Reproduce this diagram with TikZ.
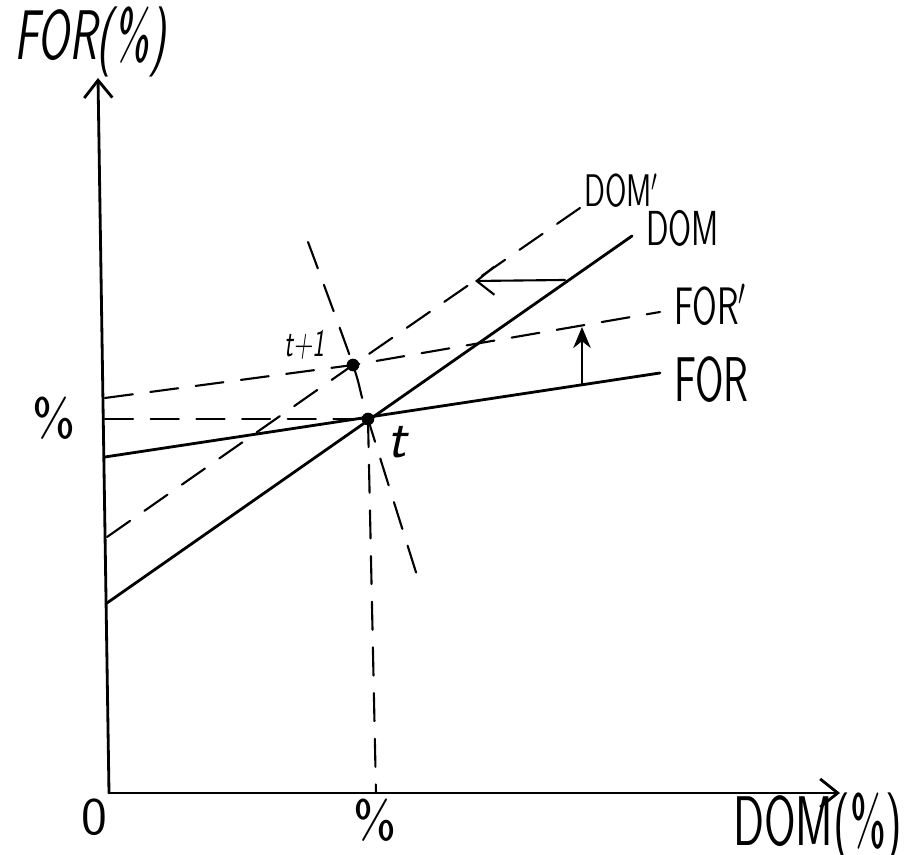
\documentclass[tikz,border=0pt]{standalone}
\usepackage{tikz}
\usetikzlibrary{arrows.meta, positioning}
% narrow, hand-lettered look
\newcommand{\handtext}[1]{\scalebox{0.65}[1]{#1}}
\tikzset{
  lbl/.style={font=\sffamily\fontsize{15}{17}\selectfont, inner sep=1pt},
  guide/.style={semithick, dash pattern=on 8pt off 5pt},
  curve/.style={thick},
  eqdot/.style={circle, fill, inner sep=0pt, minimum size=3.6pt},
  barb/.style={-{Straight Barb[length=5pt, width=8pt]}},
}

\begin{document}
\begin{tikzpicture}[line cap=round, line join=round]
  \useasboundingbox (0,0) rectangle (9.06,8.55);
  % axes
  \coordinate (O) at (1.09,0.62);
  \coordinate (ytop) at (0.98,7.77);
  \coordinate (xend) at (8.40,0.62);
  \draw[thick, barb] (O) -- (ytop);
  \draw[thick, barb] (O) -- (xend);
  \node[lbl, font=\sffamily\itshape\fontsize{20}{22}\selectfont] (ylbl) at (0.90,8.13) {\handtext{FOR(\%)}};
  \node[lbl, font=\sffamily\fontsize{20}{22}\selectfont] (xlbl) at (8.18,0.27) {\handtext{DOM(\%)}};
  \node[lbl] (olbl) at (0.94,0.38) {0};
  % equilibrium points
  \coordinate (pt) at (3.68,4.36);
  \coordinate (ptn) at (3.53,4.90);
  % FOR line
  \coordinate (forL) at (1.05,3.98);
  \coordinate (forR) at (6.60,4.82);
  \draw[curve] (forL) -- (forR);
  \node[lbl, anchor=west, font=\sffamily\fontsize{18}{20}\selectfont] (forlbl) at (6.70,4.75) {\handtext{FOR}};
  % DOM line
  \coordinate (domL) at (1.07,2.52);
  \coordinate (domR) at (6.32,6.19);
  \draw[curve] (domL) -- (domR);
  \node[lbl, anchor=west, font=\sffamily\fontsize{14}{16}\selectfont] (domlbl) at (6.42,6.27) {\handtext{DOM}};
  % FOR' line (shifted up)
  \coordinate (forsL) at (1.05,4.57);
  \coordinate (forsR) at (6.60,5.43);
  \draw[guide] (forsL) -- (ptn) -- (forsR);
  \node[lbl, anchor=west] (forslbl) at (6.70,5.50) {\handtext{FOR$'$}};
  % DOM' line (shifted left)
  \coordinate (domsL) at (1.07,3.18);
  \coordinate (domsR) at (5.80,6.47);
  \draw[guide] (domsL) -- (ptn) -- (domsR);
  \node[lbl, anchor=west, font=\sffamily\fontsize{13}{15}\selectfont] (domslbl) at (5.80,6.64) {\handtext{DOM$'$}};
  % guides to the axes
  \coordinate (pty) at (1.05,4.36);
  \coordinate (ptx) at (3.76,0.62);
  \draw[guide] (pty) -- (pt);
  \draw[guide] (pt) -- (ptx);
  \node[lbl] (pctx) at (3.75,0.35) {\%};
  \node[lbl] (pcty) at (0.54,4.37) {\%};
  % adjustment path
  \coordinate (adjT) at (3.08,6.13);
  \coordinate (adjB) at (4.20,2.70);
  \draw[guide] plot[smooth] coordinates {(adjT) (ptn) (pt) (adjB)};
  % shifts
  \coordinate (shA) at (5.65,5.75);
  \coordinate (shB) at (4.75,5.74);
  \draw[semithick, barb] (shA) -- (shB);
  \coordinate (upA) at (5.82,4.70);
  \coordinate (upB) at (5.82,5.28);
  \draw[semithick, -{Stealth[length=6pt, width=5pt]}] (upA) -- (upB);
  % points
  \node[eqdot] (t) at (pt) {};
  \node[eqdot] (tn) at (ptn) {};
  \node[lbl, font=\sffamily\itshape\fontsize{16}{18}\selectfont] (tlbl) at (3.97,4.13) {t};
  \node[lbl, font=\sffamily\itshape\fontsize{11}{13}\selectfont] (tnlbl) at (3.05,5.10) {\handtext{t+1}};
\end{tikzpicture}
\end{document}
